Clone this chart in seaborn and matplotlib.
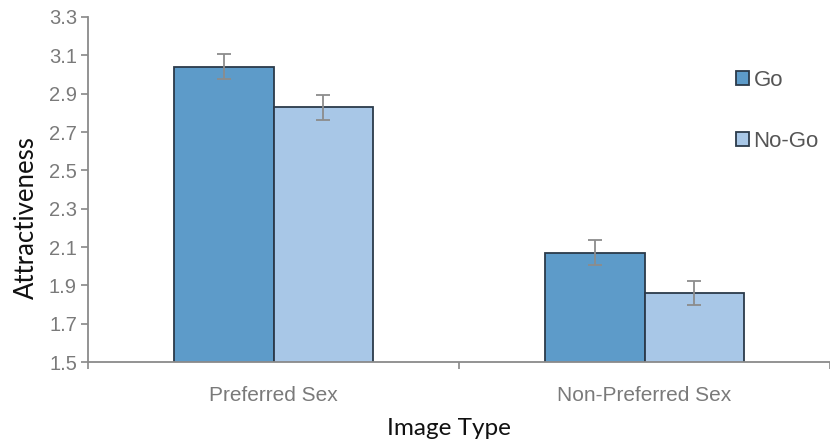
import numpy as np
import pandas as pd
import matplotlib
matplotlib.use("Agg")
import matplotlib.pyplot as plt
import seaborn as sns

# values
image_types = ["Preferred Sex", "Non-Preferred Sex"]
conditions = ["Go", "No-Go"]
go_means = [3.04, 2.07]
nogo_means = [2.83, 1.86]
go_se = [0.065, 0.065]
nogo_se = [0.065, 0.065]

df = pd.DataFrame({
    "Image Type": image_types * 2,
    "Condition": ["Go"] * 2 + ["No-Go"] * 2,
    "Attractiveness": go_means + nogo_means,
})
errs = {"Go": go_se, "No-Go": nogo_se}

sns.set_style("white")
plt.rcParams["font.family"] = ["Liberation Sans", "DejaVu Sans"]

fig = plt.figure(figsize=(8.3, 4.44), dpi=100)
ax = fig.add_axes([88 / 830, 1 - 362 / 444, 1 - 88 / 830, (362 - 17) / 444])

sns.barplot(data=df, x="Image Type", y="Attractiveness", hue="Condition",
            hue_order=conditions, order=image_types,
            palette=["#5d9bc9", "#a8c7e7"], saturation=1, width=0.535,
            errorbar=None, edgecolor="#2b3a4a", linewidth=1.3, ax=ax)

# error bars on top of each bar
for cont, cond in zip(ax.containers, conditions):
    xs = [b.get_x() + b.get_width() / 2 for b in cont]
    hs = [b.get_height() for b in cont]
    ax.errorbar(xs, hs, yerr=errs[cond], fmt="none", ecolor="#8c8c8c",
                elinewidth=1.3, capsize=5, capthick=1.3)

ax.set_ylim(1.5, 3.3)
ax.set_yticks(np.arange(1.5, 3.31, 0.2))
ax.set_yticklabels([f"{v:.1f}" for v in np.arange(1.5, 3.31, 0.2)])
ax.set_xlim(-0.5, -0.5 + 742 / 375)

# ticks sit between the groups
ax.set_xticks([0, 1])
ax.set_xticklabels(image_types)
ax.set_xticks([-0.5, 0.5, 1.5], minor=True)
ax.tick_params(axis="x", which="major", length=0, pad=17, labelsize=15,
               labelcolor="#7a7a7a")
ax.tick_params(axis="x", which="minor", length=5, width=1.2, color="#888888",
               direction="out", bottom=True)
ax.tick_params(axis="y", length=5, width=1.2, color="#888888", direction="out",
               left=True, labelsize=14.5, labelcolor="#7a7a7a", pad=3)

for s in ["top", "right"]:
    ax.spines[s].set_visible(False)
for s in ["left", "bottom"]:
    ax.spines[s].set_color("#8a8a8a")
    ax.spines[s].set_linewidth(1.3)

ax.set_xlabel("Image Type", fontsize=17.5, family=["Lato", "DejaVu Sans"],
              color="#111111")
ax.set_ylabel("Attractiveness", fontsize=18.5, family=["Lato", "DejaVu Sans"],
              color="#111111")
ax.xaxis.set_label_coords(0.487, -0.162)
ax.yaxis.set_label_coords(-0.066, 0.42)

leg = ax.legend(loc="upper left", bbox_to_anchor=(0.846, 0.905), frameon=False,
                fontsize=16, handlelength=0.6, handleheight=0.6,
                handletextpad=0.2, labelspacing=1.8)
for t in leg.get_texts():
    t.set_color("#555555")

fig.savefig("out.png", dpi=100)
